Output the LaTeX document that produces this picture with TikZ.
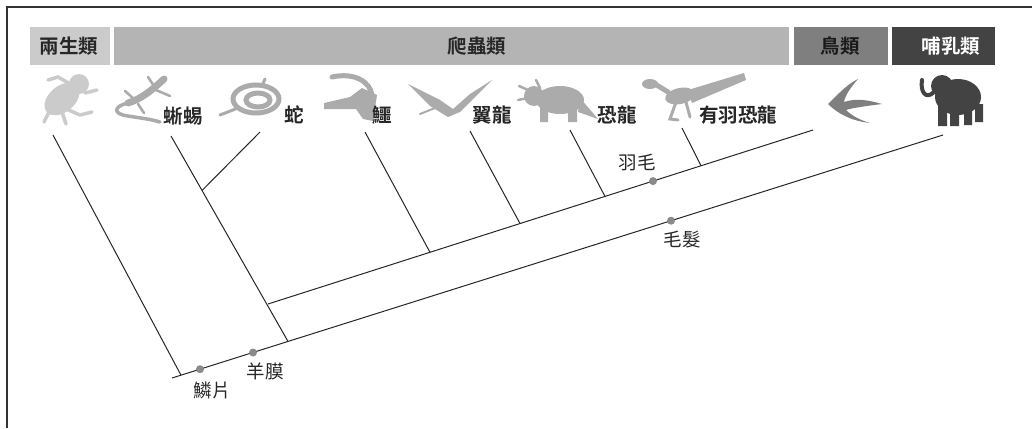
\documentclass[tikz,border=0pt]{standalone}
\usepackage{fontspec}
\newfontfamily\cjk{Noto Sans CJK TC}[BoldFont=Noto Sans CJK TC Bold]
\usetikzlibrary{calc}
\definecolor{amphib}{HTML}{CBCBCB}
\definecolor{reptile}{HTML}{B4B4B4}
\definecolor{bird}{HTML}{7F7F7F}
\definecolor{mammal}{HTML}{434343}
\definecolor{beast}{HTML}{ABABAB}
\definecolor{marker}{HTML}{8A8A8A}

\begin{document}
\begin{tikzpicture}[x=1pt,y=-1pt,
  bar/.style={anchor=north west,inner sep=0pt,minimum height=38pt},
  head/.style={inner sep=0pt,font=\cjk\bfseries\fontsize{19.5}{19.5}\selectfont,text=black!85},
  taxon/.style={inner sep=0pt,font=\cjk\bfseries\fontsize{19.5}{19.5}\selectfont,text=black!85},
  trait/.style={inner sep=0pt,font=\cjk\fontsize{18.5}{18.5}\selectfont,text=black!85},
  dot/.style={circle,fill=marker,inner sep=0pt,minimum size=8pt},
  branch/.style={line width=1pt,black!85}]
  \useasboundingbox (0,0) rectangle (1032,428);
  \draw[line width=1.6pt,black!80] (7,428) -- (7,7) -- (1032,7);

  % group bars
  \node[bar,fill=amphib,minimum width=80pt] (amphbar) at (30,27) {};
  \node[bar,fill=reptile,minimum width=675pt] (reptbar) at (114,27) {};
  \node[bar,fill=bird,minimum width=94pt] (birdbar) at (794,27) {};
  \node[bar,fill=mammal,minimum width=103pt] (mambar) at (892,27) {};
  \node[head] (amphname) at (69,46) {兩生類};
  \node[head] (reptname) at (477,46) {爬蟲類};
  \node[head,text=black!90] (birdname) at (840,46) {鳥類};
  \node[head,text=white] (mamname) at (951,46) {哺乳類};

  % silhouettes
  \fill[amphib,rotate around={40:(62,99)}] (62,99) ellipse (20 and 13);
  \fill[amphib] (79,84) circle (10);
  \draw[amphib,line width=3.5pt,line cap=round] (72,85) -- (58,77) -- (48,80) (85,93) -- (97,90)
    (50,110) -- (44,122) (64,108) -- (80,115) -- (92,112) (62,112) -- (66,124);
  \draw[beast,line width=7pt,line cap=round] (164,79) .. controls (151,91) and (141,99) .. (128,103);
  \draw[beast,line width=3.5pt,line cap=round] (128,103) .. controls (114,106) and (112,114) .. (128,116) .. controls (140,118) and (150,119) .. (160,122);
  \draw[beast,line width=2.5pt,line cap=round] (154,86) -- (148,77) (156,90) -- (170,96) (134,99) -- (125,91) (138,104) -- (144,113);
  \draw[beast,line width=5pt] (256,99) ellipse (23 and 14) (258,100) ellipse (12 and 7);
  \draw[beast,line width=3pt,line cap=round] (238,108) -- (220,115) (262,86) -- (265,79);
  \draw[beast,line width=5pt,line cap=round] (332,77) .. controls (355,72) and (370,82) .. (372,95);
  \fill[beast] (362,88) -- (377,95) -- (373,121) -- (363,119) -- (356,109) -- (324,109) -- (324,103) -- (350,97) -- cycle;
  \fill[beast] (408,84) -- (440,100) -- (453,109) -- (470,94) -- (492,80) -- (460,112) -- (448,117) -- (430,106) -- cycle;
  \draw[beast,line width=2pt,line cap=round] (440,106) -- (420,114);
  \fill[beast] (560,100) ellipse (24 and 14);
  \fill[beast] (534,96) circle (10);
  \draw[beast,line width=2.5pt,line cap=round] (528,90) -- (519,86) (528,98) -- (518,100) (540,88) -- (536,80);
  \fill[beast] (540,106) rectangle (548,122) (568,106) rectangle (577,122);
  \fill[beast] (580,98) -- (598,119) -- (578,112) -- cycle;
  \fill[beast,rotate around={12:(680,96)}] (680,96) ellipse (15 and 8);
  \draw[beast,line width=5pt,line cap=round] (668,92) -- (655,84);
  \fill[beast] (650,84) ellipse (8 and 5);
  \fill[beast] (688,90) -- (744,73) -- (746,80) -- (692,103) -- cycle;
  \draw[beast,line width=3pt,line cap=round] (676,102) -- (670,119) -- (678,120) (686,102) -- (690,117);
  \fill[bird] (828,104) .. controls (840,92) and (848,84) .. (858,79) .. controls (850,88) and (845,96) .. (844,102)
    .. controls (856,98) and (868,100) .. (882,104) .. controls (866,106) and (852,108) .. (846,110)
    .. controls (852,116) and (860,120) .. (870,123) .. controls (852,121) and (838,114) .. cycle;
  \fill[mammal] (958,97) ellipse (23 and 18);
  \fill[mammal] (942,86) circle (11);
  \draw[mammal,line width=4pt,line cap=round] (934,92) .. controls (926,100) and (920,92) .. (922,80);
  \fill[mammal] (938,104) rectangle (947,126) (950,108) rectangle (959,126) (964,108) rectangle (972,125) (975,104) rectangle (983,122);

  % taxon labels
  \node[taxon] (lizard) at (183,116) {蜥蜴};
  \node[taxon] (snake) at (294,115) {蛇};
  \node[taxon] (croc) at (382,115) {鱷};
  \node[taxon] (ptero) at (492,115) {翼龍};
  \node[taxon] (dino) at (617,115) {恐龍};
  \node[taxon] (fdino) at (738,115) {有羽恐龍};

  % tree
  \coordinate (root) at (172,378);
  \coordinate (mamtip) at (943,135);
  \coordinate (amphtip) at (53,135);
  \coordinate (amphjoin) at (181,375.2);
  \coordinate (liztip) at (171,136);
  \coordinate (lizjoin) at (288,341.4);
  \coordinate (snaketip) at (260,132);
  \coordinate (snakejoin) at (202,190.5);
  \coordinate (reptroot) at (268,304);
  \coordinate (birdtip) at (813,130);
  \coordinate (croctip) at (365,132);
  \coordinate (crocjoin) at (430,252.3);
  \coordinate (pterotip) at (470,131);
  \coordinate (pterojoin) at (520,223.5);
  \coordinate (dinotip) at (570,130);
  \coordinate (dinojoin) at (605,196.4);
  \coordinate (fdinotip) at (682,128);
  \coordinate (fdinojoin) at (701,165.7);
  \draw[branch] (root) -- (mamtip);
  \draw[branch] (amphtip) -- (amphjoin);
  \draw[branch] (liztip) -- (lizjoin);
  \draw[branch] (snaketip) -- (snakejoin);
  \draw[branch] (reptroot) -- (birdtip);
  \draw[branch] (croctip) -- (crocjoin);
  \draw[branch] (pterotip) -- (pterojoin);
  \draw[branch] (dinotip) -- (dinojoin);
  \draw[branch] (fdinotip) -- (fdinojoin);

  % traits
  \node[dot] (scales) at (200,369.2) {};
  \node[dot] (amnion) at (253,352.5) {};
  \node[dot] (feather) at (653,181.1) {};
  \node[dot] (hair) at (671,220.7) {};
  \node[trait] (scaleslabel) at (212,390) {鱗片};
  \node[trait] (amnionlabel) at (265,371) {羊膜};
  \node[trait] (featherlabel) at (637,162) {羽毛};
  \node[trait] (hairlabel) at (682,240) {毛髮};
\end{tikzpicture}
\end{document}
